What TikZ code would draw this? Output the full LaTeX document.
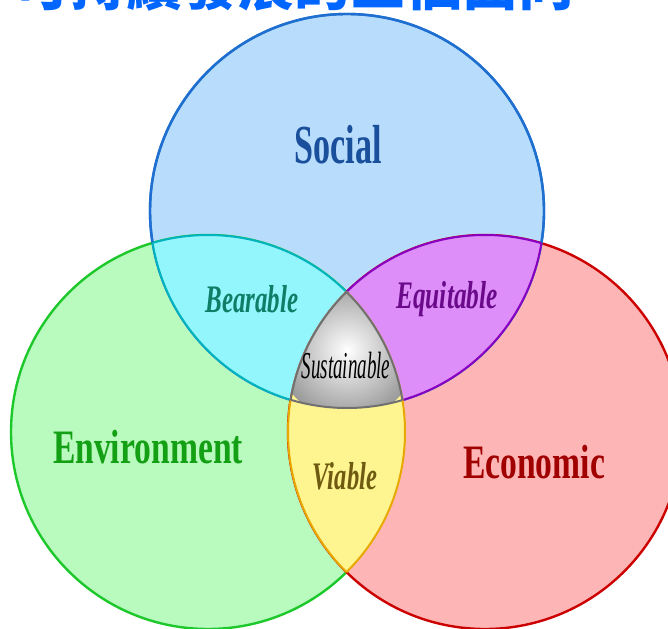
\documentclass[tikz,border=0pt]{standalone}
\usepackage{fontspec}
\setmainfont{Liberation Serif}
\newfontfamily\cjk{Noto Sans CJK SC}
\usetikzlibrary{shadings}
\definecolor{blueF}{HTML}{B8DCFC}
\definecolor{blueD}{HTML}{1E6FD0}
\definecolor{greenF}{HTML}{B9FBBE}
\definecolor{greenD}{HTML}{1DC82B}
\definecolor{redF}{HTML}{FEB5B5}
\definecolor{redD}{HTML}{CC0000}
\definecolor{cyanF}{HTML}{93F6FD}
\definecolor{cyanD}{HTML}{00B4BE}
\definecolor{violF}{HTML}{DD8EF8}
\definecolor{violD}{HTML}{8A00C0}
\definecolor{yelF}{HTML}{FFF590}
\definecolor{yelD}{HTML}{E8A800}
\definecolor{grayD}{HTML}{707070}
\definecolor{socialT}{HTML}{1A4F9C}
\definecolor{envT}{HTML}{14A014}
\definecolor{ecoT}{HTML}{A00000}
\definecolor{bearT}{HTML}{0E7E66}
\definecolor{equiT}{HTML}{6A0A8A}
\definecolor{viaT}{HTML}{6E5A10}
\definecolor{titleT}{HTML}{0066FF}
\tikzset{
  outerline/.style={line width=2.4pt},
  innerline/.style={line width=2pt},
  bigword/.style={font=\fontsize{48}{52}\selectfont\bfseries, inner sep=0pt},
  smallword/.style={font=\fontsize{39}{42}\selectfont\bfseries\itshape, inner sep=0pt},
}
\newcommand{\blueC}{(347,211) circle[radius=197pt]}
\newcommand{\greenC}{(208,432) circle[radius=197pt]}
\newcommand{\redC}{(485,432) circle[radius=197pt]}
\begin{document}
\begin{tikzpicture}[x=1pt,y=-1pt]
\useasboundingbox (0,0) rectangle (668,628);
\clip (0,0) rectangle (668,628);
\fill[white] (0,0) rectangle (668,628);
% title (cut off at top)
\node[anchor=base west, inner sep=0pt, text=titleT, font=\fontsize{56}{60}\selectfont\cjk\bfseries] (title) at (14,6) {可持續發展的三個面向};
% base circles
\filldraw[fill=blueF, draw=blueD, outerline] \blueC;
\filldraw[fill=greenF, draw=greenD, outerline] \greenC;
\filldraw[fill=redF, draw=redD, outerline] \redC;
\draw[draw=blueD, outerline] \blueC;
% blue-green lens
\begin{scope}
  \clip \blueC;
  \fill[cyanF] \greenC;
  \draw[cyanD, innerline] \greenC;
\end{scope}
\begin{scope}
  \clip \greenC;
  \draw[cyanD, innerline] \blueC;
\end{scope}
% blue-red lens
\begin{scope}
  \clip \blueC;
  \fill[violF] \redC;
  \draw[violD, innerline] \redC;
\end{scope}
\begin{scope}
  \clip \redC;
  \draw[violD, innerline] \blueC;
\end{scope}
% green-red lens
\begin{scope}
  \clip \greenC;
  \fill[yelF] \redC;
  \draw[yelD, innerline] \redC;
\end{scope}
\begin{scope}
  \clip \redC;
  \draw[yelD, innerline] \greenC;
\end{scope}
% center
\begin{scope}
  \clip \blueC;
  \clip \greenC;
  \clip \redC;
  \shade[inner color=white, outer color=gray!80] (347,350) circle[radius=70pt];
\end{scope}
\begin{scope}
  \clip \blueC;
  \clip \greenC;
  \draw[grayD, innerline] \redC;
\end{scope}
\begin{scope}
  \clip \blueC;
  \clip \redC;
  \draw[grayD, innerline] \greenC;
\end{scope}
\begin{scope}
  \clip \greenC;
  \clip \redC;
  \draw[grayD, innerline] \blueC;
\end{scope}
% labels
\node[font=\fontsize{55}{60}\selectfont\bfseries, inner sep=0pt, text=socialT] (social) at (338,145) {\scalebox{0.62}[1]{Social}};
\node[bigword, text=envT] (env) at (148,447) {\scalebox{0.70}[1]{Environment}};
\node[bigword, text=ecoT] (eco) at (534,462) {\scalebox{0.70}[1]{Economic}};
\node[smallword, text=bearT] (bear) at (252,299) {\scalebox{0.64}[1]{Bearable}};
\node[smallword, text=equiT] (equi) at (447,299) {\scalebox{0.65}[1]{Equitable}};
\node[smallword, text=viaT] (via) at (345,476) {\scalebox{0.63}[1]{Viable}};
\node[font=\fontsize{38}{42}\selectfont\itshape, inner sep=0pt, text=black] (sust) at (346,366) {\scalebox{0.5}[1]{Sustainable}};
\end{tikzpicture}
\end{document}
